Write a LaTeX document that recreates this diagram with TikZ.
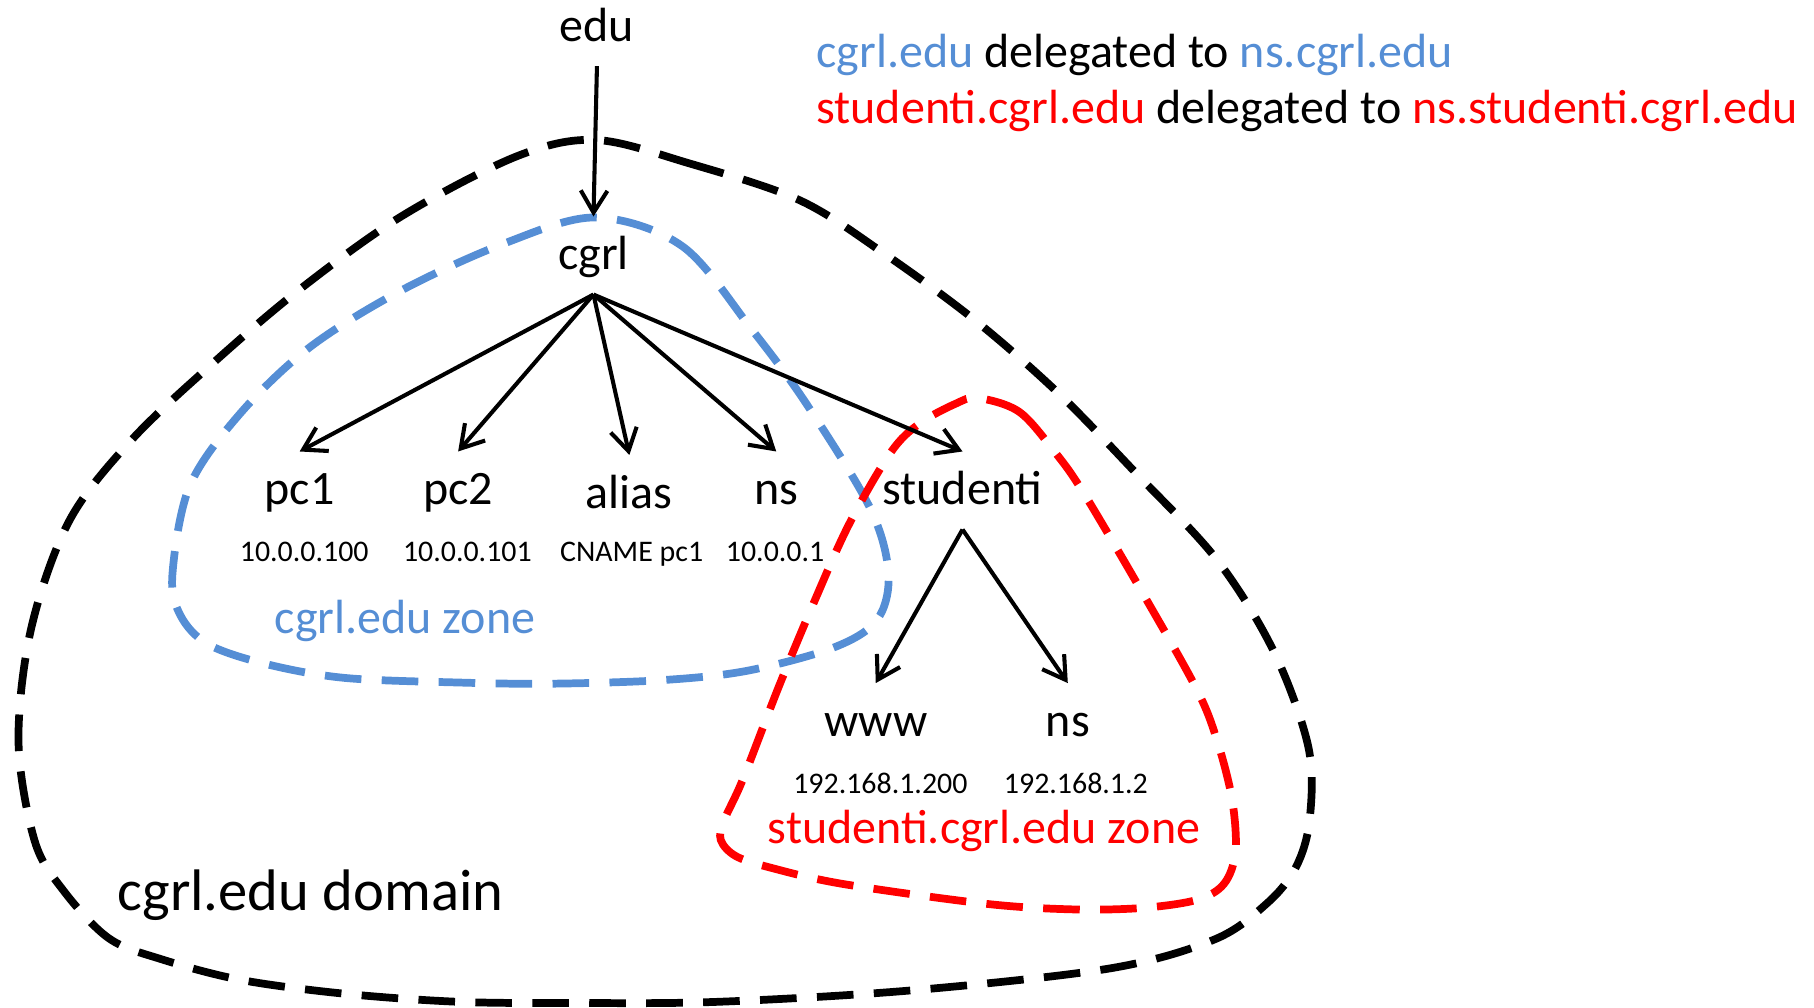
\documentclass[tikz,border=0pt]{standalone}
\usepackage{fontspec}
\setmainfont{Carlito}
\usetikzlibrary{arrows.meta}
\definecolor{zoneblue}{RGB}{85,142,213}
\definecolor{zonered}{RGB}{255,0,0}

\begin{document}
\begin{tikzpicture}[x=0.01cm, y=-0.01cm,
  host/.style={anchor=base, inner xsep=0pt, inner ysep=0.125cm,
    text height=0.33cm, text depth=0.08cm, font=\fontsize{11.8}{14}\selectfont},
  addr/.style={anchor=base, inner sep=0pt, font=\fontsize{7.35}{8.8}\selectfont},
  zonetext/.style={anchor=base west, inner sep=0pt, font=\fontsize{11.8}{14}\selectfont},
  treearrow/.style={-{Straight Barb[length=1.9mm,width=2.3mm]}, line width=1pt},
  zoneline/.style={line width=1.9pt, dash pattern=on 9pt off 5pt}]
  \useasboundingbox (0,0) rectangle (1568,871);

  % zone and domain borders
  \draw[zoneline] plot[smooth cycle, tension=0.55] coordinates {
    (515,121) (595,141) (691,173) (764,219) (843,277) (915,340) (982,409)
    (1052,484) (1101,563) (1131,646) (1132,709) (1120,750) (1095,781)
    (1050,812) (960,837) (789,856) (620,866) (496,867) (397,866) (298,859)
    (208,847) (139,829) (94,811) (55,770) (30,727) (16,641) (27,543)
    (60,450) (114,380) (184,314) (258,251) (347,187) (447,135)};
  \draw[zoneline, zoneblue] plot[smooth cycle, tension=0.55] coordinates {
    (515,188) (590,213) (650,285) (697,349) (752,439) (768,496) (758,536)
    (720,560) (645,580) (571,588) (476,591) (397,590) (298,586) (230,574)
    (180,557) (156,532) (149,497) (164,420) (208,357) (268,300) (347,251)
    (437,210)};
  \draw[zoneline, zonered] plot[smooth cycle, tension=0.55] coordinates {
    (845,344) (881,356) (912,391) (936,425) (985,508) (1034,595) (1052,640)
    (1065,691) (1068,736) (1058,764) (1034,778) (985,785) (924,786)
    (850,781) (728,764) (666,750) (636,740) (623,726) (626,709) (642,674)
    (673,594) (703,522) (734,453) (770,391) (795,366) (826,349)};

  % names
  \node[host] (edu) at (516,36) {edu};
  \node[host] (cgrl) at (513,233.4) {cgrl};
  \node[host] (pc1) at (259,436.5) {pc1};
  \node[host] (pc2) at (396,436.5) {pc2};
  \node[host] (alias) at (544,439.5) {alias};
  \node[host] (ns) at (671,436.5) {ns};
  \node[host] (studenti) at (832,436.5) {studenti};
  \node[host] (www) at (757,636.7) {www};
  \node[host] (stuns) at (923,636.7) {ns};

  % records
  \node[addr] (pc1rr) at (263,485.5) {10.0.0.100};
  \node[addr] (pc2rr) at (404,485.5) {10.0.0.101};
  \node[addr] (aliasrr) at (546,485.5) {CNAME pc1};
  \node[addr] (nsrr) at (670,485.5) {10.0.0.1};
  \node[addr] (wwwrr) at (761,685.7) {192.168.1.200};
  \node[addr] (stunsrr) at (930,685.7) {192.168.1.2};

  \node[zonetext, zoneblue] (cgrlzone) at (237,547.4) {cgrl.edu zone};
  \node[zonetext, zonered] (stuzone) at (663,729) {studenti.cgrl.edu zone};
  \node[anchor=base west, inner sep=0pt, font=\fontsize{14.4}{17}\selectfont]
    (domain) at (101,787) {cgrl.edu domain};

  \node[zonetext] (deleg1) at (705,58)
    {\textcolor{zoneblue}{cgrl.edu} delegated to \textcolor{zoneblue}{ns.cgrl.edu}};
  \node[zonetext] (deleg2) at (705,107)
    {\textcolor{zonered}{studenti.cgrl.edu} delegated to \textcolor{zonered}{ns.studenti.cgrl.edu}};

  % tree
  \draw[treearrow] (edu.south) -- (cgrl.north);
  \foreach \kid in {pc1,pc2,alias,ns,studenti}
    \draw[treearrow] (cgrl.south) -- (\kid.north);
  \foreach \kid in {www,stuns}
    \draw[treearrow] (studenti.south) -- (\kid.north);
\end{tikzpicture}
\end{document}
